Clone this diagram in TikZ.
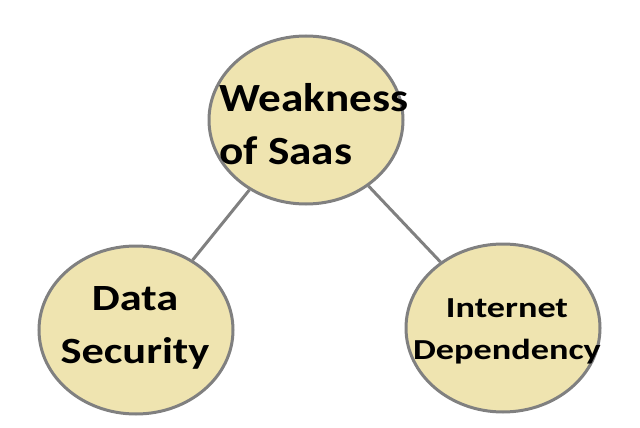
\documentclass[tikz,border=0pt]{standalone}
\usepackage{fontspec}
\setmainfont{Carlito}
\usetikzlibrary{shapes.geometric}
\definecolor{fillk}{HTML}{EFE4B0}
\definecolor{edg}{HTML}{808080}
\begin{document}
\begin{tikzpicture}[x=1pt,y=-1pt,
  bub/.style={ellipse,draw=edg,line width=3pt,fill=fillk,minimum width=194pt,minimum height=168pt,inner sep=0pt},
  lnk/.style={draw=edg,line width=3pt},
  txt/.style={inner sep=0pt}]
\useasboundingbox (0,0) rectangle (640,428);
\node[bub] (top) at (306,120) {};
\node[bub] (left) at (136,330) {};
\node[bub] (right) at (503,328) {};
\draw[lnk] (top) -- (left);
\draw[lnk] (top) -- (right);
\node[txt,align=left,xscale=1.13,font=\fontsize{40}{53}\selectfont\bfseries] (t1) at (314,124) {Weakness\\of Saas};
\node[txt,align=center,xscale=1.2,font=\fontsize{37}{53}\selectfont\bfseries] (t2) at (135,328) {Data\\Security};
\node[txt,align=center,xscale=1.25,font=\fontsize{29}{42}\selectfont\bfseries] (t3) at (507,331) {Internet\\Dependency};
\end{tikzpicture}
\end{document}
